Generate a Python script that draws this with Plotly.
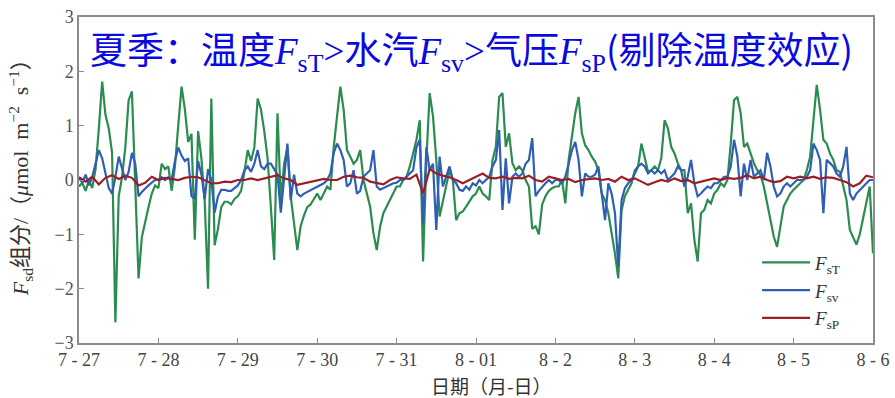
import plotly.graph_objects as go

# ---------------- data ----------------
DATE_LABELS = ["7 - 27", "7 - 28", "7 - 29", "7 - 30", "7 - 31", "8 - 01",
               "8 - 2", "8 - 3", "8 - 4", "8 - 5", "8 - 6"]

# F_sT (green), hourly values, one list per day (7-27 ... 8-5, last day incl. 8-6 00h)
FsT_d0 = [-0.12, -0.05, -0.2, 0.0, -0.15, 0.2, 0.95, 1.81, 1.2, 0.95, 0.5, -2.62,
          -0.3, 0.05, 0.6, 1.47, 1.63, -0.3, -1.81, -1.05, -0.74, -0.5, -0.25, -0.1]
FsT_d1 = [-0.15, 0.3, 0.2, 0.25, -0.2, 0.25, 1.0, 1.72, 1.3, 0.7, 0.85, -1.1,
          0.9, 0.4, -0.4, -2.0, 1.5, -1.2, -0.9, -0.5, -0.4, -0.4, -0.45, -0.35]
FsT_d2 = [-0.3, -0.2, 0.15, 0.55, 0.35, 0.6, 1.5, 1.3, 0.9, 0.4, -0.5, -1.47,
          1.23, -0.4, 0.3, 0.6, -0.3, -0.8, -1.29, -0.85, -0.65, -0.5, -0.45, -0.35]
FsT_d3 = [-0.25, -0.37, -0.25, -0.12, -0.18, 0.61, 1.17, 1.72, 1.29, 0.55, 0.43, 0.3,
          0.37, 0.55, 0.0, -0.25, -0.49, -0.98, -1.29, -0.86, -0.61, -0.49, -0.37, -0.25]
FsT_d4 = [-0.12, -0.12, 0.0, 0.06, 0.25, 0.49, 0.74, 1.1, -1.5, 0.37, 1.6, 1.17,
          0.37, -0.67, -0.37, -0.12, 0.18, 0.0, -0.74, -0.61, -0.58, -0.49, -0.4, -0.3]
FsT_d5 = [-0.25, -0.12, -0.25, -0.3, -0.37, 0.37, 0.61, 1.53, 1.6, 0.61, 0.86, 0.31,
          0.18, 0.25, 0.18, 0.0, -0.12, -0.9, -0.85, -1.0, -0.45, -0.3, -0.2, -0.15]
FsT_d6 = [-0.12, -0.12, 0.0, -0.43, 0.37, 0.8, 1.23, 1.53, 0.86, 0.64, 0.55, 0.43,
          0.34, 0.18, -0.25, -0.37, -0.61, -0.98, -1.35, -1.81, -0.55, -0.3, -0.18, -0.06]
FsT_d7 = [0.18, 0.25, 0.67, 0.43, 0.15, 0.18, 0.25, 0.18, 0.4, 1.1, 0.95, 0.61,
          0.49, 0.31, 0.18, 0.18, -0.61, -0.43, -1.1, -1.5, -0.61, -0.55, -0.37, -0.43]
FsT_d8 = [-0.25, -0.18, -0.06, -0.12, 0.0, 0.67, 1.47, 1.53, 1.23, 0.61, 0.67, 0.49,
          0.31, 0.18, 0.09, -0.12, -0.43, -0.74, -1.04, -1.23, -0.86, -0.49, -0.37, -0.25]
FsT_d9 = [-0.18, -0.12, -0.06, 0.0, 0.18, 0.43, 1.1, 1.75, 1.29, 0.74, 0.67, 0.49,
          0.37, 0.18, 0.15, -0.12, -0.37, -0.92, -1.04, -1.19, -1.0, -0.7, -0.37, -0.12, -1.35]

# F_sv (blue), hourly
Fsv_d0 = [0.05, -0.05, 0.1, -0.1, 0.05, 0.3, 0.55, 0.4, 0.15, -0.15, -0.25, 0.05,
          0.43, 0.2, 0.0, 0.15, 0.5, 0.3, -0.3, -0.22, -0.15, -0.1, -0.05, 0.0]
Fsv_d1 = [0.0, 0.05, 0.0, 0.05, 0.0, 0.35, 0.6, 0.45, 0.35, 0.4, -0.3, -0.35,
          0.35, 0.1, -0.35, 0.2, 0.0, -0.6, -0.3, -0.18, -0.18, -0.2, -0.2, -0.15]
Fsv_d2 = [-0.1, 0.0, 0.18, 0.25, 0.15, 0.3, 0.55, 0.25, 0.2, 0.3, 0.3, 0.2,
          0.1, -0.6, 0.0, 0.67, -0.37, 0.1, -0.25, -0.3, -0.25, -0.22, -0.18, -0.15]
Fsv_d3 = [-0.12, -0.1, -0.06, 0.0, 0.12, 0.5, 0.67, 0.55, 0.37, -0.12, -0.06, 0.18,
          -0.25, -0.2, 0.06, 0.12, 0.18, 0.55, -0.12, -0.18, -0.15, -0.12, -0.1, -0.06]
Fsv_d4 = [-0.05, 0.0, 0.0, 0.06, 0.12, 0.18, 0.6, 0.74, -0.8, 0.6, 0.18, 0.3,
          -0.92, 0.43, -0.12, 0.06, 0.25, 0.0, -0.06, -0.18, -0.2, -0.12, -0.18, -0.06]
Fsv_d5 = [-0.1, 0.0, -0.06, 0.0, 0.06, 0.25, 0.37, 0.92, -0.55, 0.4, -0.43, 0.06,
          0.12, 0.06, 0.12, 0.3, 0.37, 0.77, -0.3, -0.2, -0.12, -0.06, 0.0, -0.06]
Fsv_d6 = [0.0, 0.0, -0.06, 0.06, 0.3, 0.55, 0.7, 0.37, -0.3, 0.12, 0.06, 0.06,
          0.1, 0.25, -0.25, -0.74, -0.06, -0.25, -0.61, -1.6, -0.37, -0.15, -0.06, 0.0]
Fsv_d7 = [0.12, 0.25, 0.3, 0.25, 0.12, 0.18, 0.12, 0.18, 0.12, 0.18, 0.0, 0.06,
          0.12, 0.25, 0.18, -0.12, 0.06, 0.37, -0.06, -0.3, -0.25, -0.18, -0.12, -0.15]
Fsv_d8 = [-0.06, -0.06, 0.0, 0.06, 0.06, 0.25, 0.74, 0.43, -0.3, 0.3, 0.0, 0.37,
          0.06, 0.12, 0.18, 0.0, 0.5, 0.25, -0.12, -0.3, -0.25, -0.12, -0.06, -0.12]
Fsv_d9 = [-0.06, 0.0, 0.0, 0.0, 0.06, 0.18, 0.67, 0.55, 0.37, -0.61, 0.37, 0.3,
          0.25, 0.12, 0.06, 0.25, 0.61, -0.25, -0.37, -0.25, -0.18, -0.12, -0.06, 0.0, 0.0]

# F_sP (dark red), two-hourly
FsP_a = [0.05, -0.03, 0.06, -0.08, 0.04, 0.09, 0.02, 0.08, 0.04, -0.1, -0.05, 0.06,
         0.0, 0.04, 0.02, 0.0, 0.04, 0.06, 0.05, 0.0, -0.06, -0.06, -0.03, -0.04,
         0.0, 0.0, 0.03, 0.0, 0.03, 0.06]
FsP_b = [0.09, 0.03, 0.0, -0.09, -0.06, -0.03, 0.0, 0.02, 0.0, 0.0, 0.06, 0.08,
         0.05, 0.04, -0.03, -0.06, -0.08, 0.0, 0.05, 0.03, 0.02, 0.1, -0.25, 0.2,
         0.12, 0.08, 0.05, 0.0, -0.06, 0.0]
FsP_c = [0.06, 0.12, 0.04, 0.03, 0.06, 0.02, 0.04, 0.03, 0.08, 0.0, -0.03, 0.06,
         0.03, 0.0, 0.02, -0.04, 0.0, 0.02, 0.03, 0.0, 0.02, -0.03, 0.06, 0.0,
         0.03, -0.03, -0.09, -0.04, 0.0]
FsP_d = [-0.03, 0.03, -0.02, 0.0, -0.06, -0.03, 0.0, 0.03, 0.0, 0.04, 0.02, 0.04,
         0.09, 0.03, 0.06, 0.0, -0.04, -0.02, 0.06, 0.03, 0.06, 0.03, 0.06, 0.02,
         0.05, 0.04, 0.0, -0.04, -0.12, -0.06, 0.08, 0.05]

FsT = FsT_d0 + FsT_d1 + FsT_d2 + FsT_d3 + FsT_d4 + FsT_d5 + FsT_d6 + FsT_d7 + FsT_d8 + FsT_d9
Fsv = Fsv_d0 + Fsv_d1 + Fsv_d2 + Fsv_d3 + Fsv_d4 + Fsv_d5 + Fsv_d6 + Fsv_d7 + Fsv_d8 + Fsv_d9
FsP = FsP_a + FsP_b + FsP_c + FsP_d

hours = list(range(len(FsT)))
hours2 = [2 * i for i in range(len(FsP))]

# ---------------- figure ----------------
SERIF = "Liberation Serif, Noto Sans CJK SC, serif"
LS = "<span style=\"font-family:'Liberation Serif'\">"
fig = go.Figure()
fig.add_trace(go.Scatter(x=hours, y=FsT, mode="lines", name="<i>F</i><sub>sT</sub>",
                         line=dict(color="#2b8c50", width=2.2)))
fig.add_trace(go.Scatter(x=hours, y=Fsv, mode="lines", name="<i>F</i><sub>sv</sub>",
                         line=dict(color="#2f5fb5", width=2.2)))
fig.add_trace(go.Scatter(x=hours2, y=FsP, mode="lines", name="<i>F</i><sub>sP</sub>",
                         line=dict(color="#9a1f22", width=2.2)))

axis_common = dict(showline=True, linecolor="#8c8c8c", linewidth=1.5, mirror=True,
                   ticks="inside", ticklen=5, tickcolor="#8c8c8c", tickwidth=1.2,
                   showgrid=False, zeroline=False, automargin=False)

fig.update_layout(
    width=895, height=398,
    margin=dict(l=79, r=22, t=17, b=55, autoexpand=False),
    paper_bgcolor="white", plot_bgcolor="white",
    showlegend=True,
    legend=dict(x=0.854, y=0.305, xanchor="left", yanchor="top",
                bgcolor="rgba(0,0,0,0)", font=dict(family=SERIF, size=19, color="#333"),
                itemwidth=48, tracegroupgap=0),
    xaxis=dict(range=[0, 240], tickvals=[24 * i for i in range(11)], ticktext=DATE_LABELS,
               tickfont=dict(family=SERIF, size=18, color="#444"), **axis_common),
    yaxis=dict(range=[-3, 3], tickvals=[-3, -2, -1, 0, 1, 2, 3],
               tickfont=dict(family=SERIF, size=18, color="#555"), **axis_common),
    annotations=[
        dict(xref="paper", yref="paper", x=0.011, y=0.899, xanchor="left", yanchor="middle",
             showarrow=False,
             text=("夏季：温度" + LS + "<i>F</i><sub>sT</sub>&gt;</span>水汽"
                   + LS + "<i>F</i><sub>sv</sub>&gt;</span>气压"
                   + LS + "<i>F</i><sub>sP</sub></span>(剔除温度效应)"),
             font=dict(family="Noto Sans CJK SC", size=37, color="#0a0ae0")),
        dict(xref="paper", yref="paper", x=0.519, y=-0.131, xanchor="center", yanchor="middle",
             showarrow=False, text="日期（月-日）", borderpad=0,
             font=dict(family="Noto Sans CJK SC", size=19, color="#333")),
        dict(xref="paper", yref="paper", x=-0.0743, y=0.524, xanchor="center", yanchor="middle",
             showarrow=False, textangle=-90,
             text="<i>F</i><sub>sd</sub>组分/（<i>μ</i>mol\u2002m<sup>−2</sup>\u2002s<sup>−1</sup>）",
             font=dict(family=SERIF, size=22, color="#333")),
    ],
)

fig.write_html("out.html", config={"displayModeBar": False},
               post_script="document.body.style.margin='0';document.body.style.overflow='hidden';")
